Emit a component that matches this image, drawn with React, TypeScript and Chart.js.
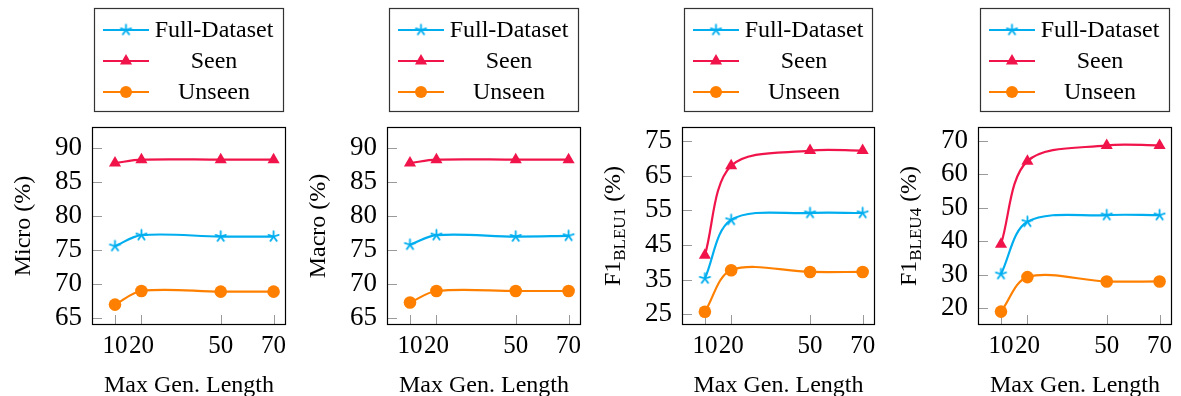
import React, { useEffect, useRef } from 'react';
import { Chart, registerables } from 'chart.js';

Chart.register(...registerables);

// ---- data ----
const lengths = [10, 20, 50, 70];
const seriesNames = ['Full-Dataset', 'Seen', 'Unseen'];

const microFull = [75.6, 77.2, 77.0, 77.0];
const microSeen = [87.8, 88.3, 88.3, 88.3];
const microUnseen = [67.0, 69.0, 68.9, 68.9];

const macroFull = [75.8, 77.2, 77.0, 77.1];
const macroSeen = [87.8, 88.3, 88.3, 88.3];
const macroUnseen = [67.3, 69.0, 69.0, 69.0];

const bleu1Full = [35.3, 52.2, 54.2, 54.2];
const bleu1Seen = [42.0, 67.8, 72.2, 72.2];
const bleu1Unseen = [25.7, 37.7, 37.2, 37.2];

const bleu4Full = [30.2, 45.8, 47.8, 47.8];
const bleu4Seen = [39.1, 63.9, 68.6, 68.6];
const bleu4Unseen = [19.0, 29.3, 28.0, 28.0];

const microTicks = [65, 70, 75, 80, 85, 90];
const macroTicks = [65, 70, 75, 80, 85, 90];
const bleu1Ticks = [25, 35, 45, 55, 65, 75];
const bleu4Ticks = [20, 30, 40, 50, 60, 70];

const microTitle = [{ t: 'Micro (%)', sub: false }];
const macroTitle = [{ t: 'Macro (%)', sub: false }];
const bleu1Title = [{ t: 'F1', sub: false }, { t: 'BLEU1', sub: true }, { t: ' (%)', sub: false }];
const bleu4Title = [{ t: 'F1', sub: false }, { t: 'BLEU4', sub: true }, { t: ' (%)', sub: false }];

const xTitle = 'Max Gen. Length';

// ---- styles ----
const COLORS = ['#00AEEF', '#F0144B', '#FF8000'];
const FONT = '"Liberation Serif", "Times New Roman", serif';
const H = 396;
const Y_AXIS_W = 92;
const X_AXIS_H = 71;
const TOP_PAD = 127;

type Panel = {
  areaLeft: number;
  areaRight: number;
  full: number[];
  seen: number[];
  unseen: number[];
  ticks: number[];
  yMin: number;
  yMax: number;
  title: { t: string; sub: boolean }[];
};

const panels: Panel[] = [
  { areaLeft: 92, areaRight: 289, full: microFull, seen: microSeen, unseen: microUnseen, ticks: microTicks, yMin: 64.0, yMax: 93.1, title: microTitle },
  { areaLeft: 387, areaRight: 584, full: macroFull, seen: macroSeen, unseen: macroUnseen, ticks: macroTicks, yMin: 64.0, yMax: 93.1, title: macroTitle },
  { areaLeft: 682, areaRight: 878, full: bleu1Full, seen: bleu1Seen, unseen: bleu1Unseen, ticks: bleu1Ticks, yMin: 21.9, yMax: 79.0, title: bleu1Title },
  { areaLeft: 978, areaRight: 1175, full: bleu4Full, seen: bleu4Seen, unseen: bleu4Unseen, ticks: bleu4Ticks, yMin: 15.0, yMax: 74.1, title: bleu4Title },
];

function makeStar(color: string, r: number, lw: number): HTMLCanvasElement {
  const size = Math.ceil(2 * r + lw + 2);
  const c = document.createElement('canvas');
  c.width = size;
  c.height = size;
  const ctx = c.getContext('2d')!;
  ctx.strokeStyle = color;
  ctx.lineWidth = lw;
  ctx.lineCap = 'round';
  const cx = size / 2;
  const cy = size / 2;
  for (let i = 0; i < 5; i++) {
    const a = -Math.PI / 2 + (i * 2 * Math.PI) / 5;
    ctx.beginPath();
    ctx.moveTo(cx, cy);
    ctx.lineTo(cx + r * Math.cos(a), cy + r * Math.sin(a));
    ctx.stroke();
  }
  return c;
}

function drawMarker(ctx: CanvasRenderingContext2D, kind: number, x: number, y: number, star: HTMLCanvasElement) {
  ctx.save();
  ctx.fillStyle = COLORS[kind];
  if (kind === 0) {
    ctx.drawImage(star, x - star.width / 2, y - star.height / 2);
  } else if (kind === 1) {
    const r = 7;
    ctx.beginPath();
    for (let i = 0; i < 3; i++) {
      const a = -Math.PI / 2 + (i * 2 * Math.PI) / 3;
      const px = x + r * Math.cos(a);
      const py = y + r * Math.sin(a);
      if (i === 0) ctx.moveTo(px, py);
      else ctx.lineTo(px, py);
    }
    ctx.closePath();
    ctx.fill();
  } else {
    ctx.beginPath();
    ctx.arc(x, y, 6, 0, Math.PI * 2);
    ctx.fill();
  }
  ctx.restore();
}

function PanelChart({ p }: { p: Panel }) {
  const ref = useRef<HTMLCanvasElement>(null);
  const canvasLeft = p.areaLeft - Y_AXIS_W;
  const width = p.areaRight - canvasLeft + 4;

  useEffect(() => {
    const star = makeStar(COLORS[0], 5.4, 1.8);
    const decor = {
      id: 'decor',
      beforeDatasetsDraw(chart: any) {
        const { ctx, chartArea } = chart;
        const xs = chart.scales.x;
        const ys = chart.scales.y;
        ctx.save();
        ctx.strokeStyle = '#9a9a9a';
        ctx.lineWidth = 1;
        p.ticks.forEach((v) => {
          const y = Math.round(ys.getPixelForValue(v)) + 0.5;
          ctx.beginPath();
          ctx.moveTo(chartArea.left, y);
          ctx.lineTo(chartArea.left + 10, y);
          ctx.stroke();
        });
        lengths.forEach((v) => {
          const x = Math.round(xs.getPixelForValue(v)) + 0.5;
          ctx.beginPath();
          ctx.moveTo(x, chartArea.bottom);
          ctx.lineTo(x, chartArea.bottom - 10);
          ctx.stroke();
        });
        ctx.restore();
      },
      afterDraw(chart: any) {
        const { ctx, chartArea } = chart;
        ctx.save();
        // frame
        ctx.strokeStyle = '#000';
        ctx.lineWidth = 1.2;
        ctx.strokeRect(chartArea.left + 0.5, chartArea.top + 0.5, chartArea.right - chartArea.left - 1, chartArea.bottom - chartArea.top - 1);

        // x title
        ctx.fillStyle = '#000';
        ctx.font = `24px ${FONT}`;
        ctx.textAlign = 'center';
        ctx.textBaseline = 'middle';
        ctx.fillText(xTitle, (chartArea.left + chartArea.right) / 2, 386);

        // y title (rotated, with optional subscript)
        const mainFont = `24px ${FONT}`;
        const subFont = `17px ${FONT}`;
        let total = 0;
        const widths = p.title.map((part) => {
          ctx.font = part.sub ? subFont : mainFont;
          const w = ctx.measureText(part.t).width;
          total += w;
          return w;
        });
        ctx.translate(chartArea.left - 70, (chartArea.top + chartArea.bottom) / 2);
        ctx.rotate(-Math.PI / 2);
        ctx.textAlign = 'left';
        ctx.textBaseline = 'alphabetic';
        let cx = -total / 2;
        p.title.forEach((part, i) => {
          ctx.font = part.sub ? subFont : mainFont;
          ctx.fillText(part.t, cx, part.sub ? 8 + 5 : 8);
          cx += widths[i];
        });
        ctx.setTransform(1, 0, 0, 1, 0, 0);

        // legend
        const bl = chartArea.left + 2;
        const br = chartArea.right - 2;
        const bt = 8;
        const bb = 112;
        ctx.strokeStyle = '#333';
        ctx.lineWidth = 1.2;
        ctx.strokeRect(bl + 0.5, bt + 0.5, br - bl - 1, bb - bt - 1);
        const rows = [30, 61, 92];
        seriesNames.forEach((name, i) => {
          const y = rows[i];
          ctx.strokeStyle = COLORS[i];
          ctx.lineWidth = 2;
          ctx.beginPath();
          ctx.moveTo(bl + 9, y);
          ctx.lineTo(bl + 55, y);
          ctx.stroke();
          drawMarker(ctx, i, bl + 32, y, star);
          ctx.fillStyle = '#000';
          ctx.font = `24px ${FONT}`;
          ctx.textAlign = 'center';
          ctx.textBaseline = 'middle';
          ctx.fillText(name, bl + 120, y + 1);
        });
        ctx.restore();
      },
    };

    const mk = (data: number[], i: number, style: any, radius: number) => ({
      label: seriesNames[i],
      data: lengths.map((x, k) => ({ x, y: data[k] })),
      borderColor: COLORS[i],
      backgroundColor: COLORS[i],
      borderWidth: 2.2,
      pointStyle: style,
      pointRadius: radius,
      pointHoverRadius: radius,
      pointBorderWidth: 0,
      tension: 0.33,
      clip: false as any,
    });

    const chart = new Chart(ref.current!, {
      type: 'line',
      data: {
        datasets: [
          mk(p.full, 0, star, 6),
          mk(p.seen, 1, 'triangle', 7),
          mk(p.unseen, 2, 'circle', 6.3),
        ],
      },
      options: {
        animation: false,
        responsive: false,
        maintainAspectRatio: false,
        layout: { padding: { top: TOP_PAD, right: 4, bottom: 0, left: 0 } },
        plugins: { legend: { display: false }, tooltip: { enabled: false } },
        scales: {
          x: {
            type: 'linear',
            min: 1.3,
            max: 74.7,
            grid: { display: false, drawTicks: false },
            border: { display: false },
            afterBuildTicks: (s: any) => {
              s.ticks = lengths.map((v) => ({ value: v }));
            },
            afterFit: (s: any) => {
              s.height = X_AXIS_H;
            },
            ticks: {
              autoSkip: false,
              maxRotation: 0,
              padding: 6,
              color: '#000',
              font: { family: FONT, size: 25 },
              callback: (v: any) => String(v),
            },
          },
          y: {
            type: 'linear',
            min: p.yMin,
            max: p.yMax,
            grid: { display: false, drawTicks: false },
            border: { display: false },
            afterBuildTicks: (s: any) => {
              s.ticks = p.ticks.map((v) => ({ value: v }));
            },
            afterFit: (s: any) => {
              s.width = Y_AXIS_W;
            },
            ticks: {
              autoSkip: false,
              padding: 10,
              color: '#000',
              font: { family: FONT, size: 27 },
              callback: (v: any) => String(v),
            },
          },
        },
      },
      plugins: [decor],
    });
    return () => chart.destroy();
  }, [p]);

  return (
    <canvas
      ref={ref}
      width={width}
      height={H}
      style={{ position: 'absolute', left: canvasLeft, top: 0, width, height: H }}
    />
  );
}

export default function App() {
  return (
    <div style={{ position: 'absolute', left: 0, top: 0, width: 1181, height: H, background: '#fff' }}>
      {panels.map((p, i) => (
        <PanelChart key={i} p={p} />
      ))}
    </div>
  );
}
